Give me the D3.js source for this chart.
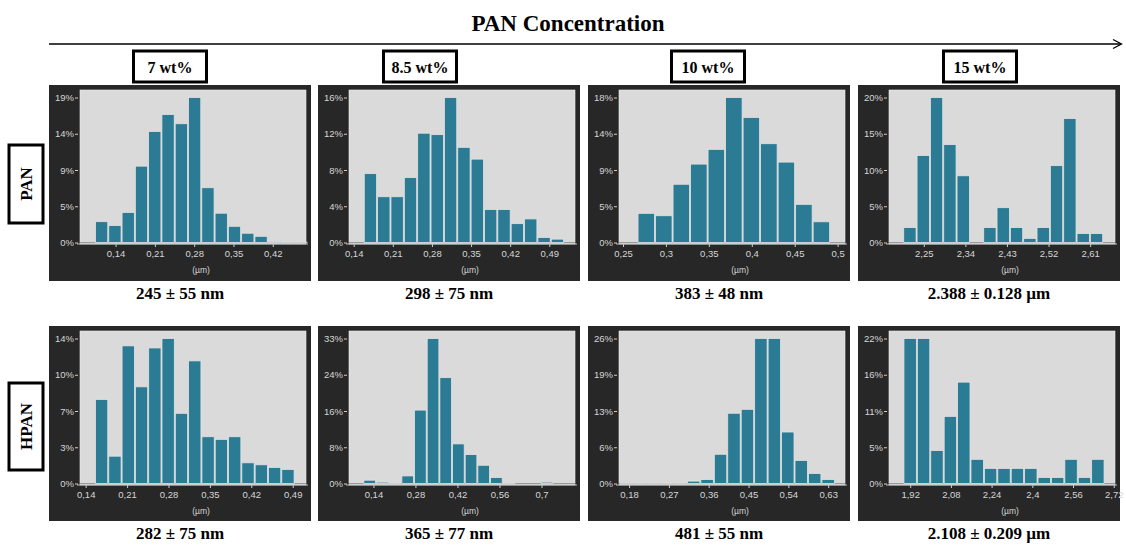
<!DOCTYPE html>
<html>
<head>
<meta charset="utf-8">
<script src="https://cdn.jsdelivr.net/npm/d3@7/dist/d3.min.js"></script>
<style>
    body { margin: 0; background: #fff; }
    svg { display: block; }
</style>
</head>
<body>
<div id="chart"></div>
<script>
// 列标题 / 行标题 / 均值±标准差
var concLabels = ['7 wt%', '8.5 wt%', '10 wt%', '15 wt%'];
var rowLabels = ['PAN', 'HPAN'];
var pan_captions = ['245 ± 55 nm', '298 ± 75 nm', '383 ± 48 nm', '2.388 ± 0.128 µm'];
var hpan_captions = ['282 ± 75 nm', '365 ± 77 nm', '481 ± 55 nm', '2.108 ± 0.209 µm'];

// 直方图数据 (%)，每个面板：首个分箱起点、分箱宽度、x定义域、刻度
var pan7 = [2.7, 2.2, 3.9, 9.9, 14.4, 16.6, 15.4, 18.8, 7.1, 3.8, 2.1, 1.2, 0.8, 0.1, 0.05, 0.05];
var pan7Ticks = [0.14, 0.21, 0.28, 0.35, 0.42];
var pan85 = [7.6, 5.05, 5.05, 7.16, 12.06, 11.9, 16, 10.5, 9.2, 3.64, 3.64, 2.08, 2.6, 0.56, 0.37, 0];
var pan85Ticks = [0.14, 0.21, 0.28, 0.35, 0.42, 0.49];
var pan10 = [3.66, 3.36, 7.31, 9.84, 11.69, 18.2, 15.7, 12.4, 10.09, 4.79, 2.6];
var pan10Ticks = [0.25, 0.3, 0.35, 0.4, 0.45, 0.5];
var pan15 = [2.06, 12.0, 20, 13.5, 9.2, 0, 2.06, 4.8, 2.06, 0.57, 2.06, 10.6, 17.1, 1.23, 1.23];
var pan15Ticks = [2.25, 2.34, 2.43, 2.52, 2.61];

var hpan7 = [8.0, 2.6, 13.1, 9.2, 12.9, 13.8, 6.68, 11.67, 4.45, 4.2, 4.45, 1.97, 1.78, 1.53, 1.34];
var hpan7Ticks = [0.14, 0.21, 0.28, 0.35, 0.42, 0.49];
var hpan85 = [0.74, 0.3, 0.05, 1.7, 16.5, 32.6, 23.8, 8.9, 6.5, 4.1, 1.34, 0.05, 0, 0, 0.3, 0];
var hpan85Ticks = [0.14, 0.28, 0.42, 0.56, 0.7];
var hpan10 = [0.1, 0.05, 0.05, 0.05, 0.05, 0.42, 0.7, 5.2, 12.5, 13.2, 25.8, 25.8, 9.16, 4.1, 1.78, 0.71];
var hpan10Ticks = [0.18, 0.27, 0.36, 0.45, 0.54, 0.63];
var hpan15 = [21.6, 21.6, 4.9, 10.0, 15.1, 3.6, 2.25, 2.25, 2.25, 2.25, 0.9, 0.9, 3.6, 0.9, 3.6];
var hpan15Ticks = [1.92, 2.08, 2.24, 2.4, 2.56, 2.72];

var panels = [
    [
        {values: pan7, start: 0.1033, width: 0.02367, domain: [0.0766, 0.4792], ticks: pan7Ticks, yMax: 18.8},
        {values: pan85, start: 0.158, width: 0.0239, domain: [0.1316, 0.536], ticks: pan85Ticks, yMax: 16},
        {values: pan10, start: 0.2669, width: 0.0204, domain: [0.2453, 0.5086], ticks: pan10Ticks, yMax: 18.2},
        {values: pan15, start: 2.2055, width: 0.02885, domain: [2.1747, 2.6638], ticks: pan15Ticks, yMax: 20}
    ],
    [
        {values: hpan7, start: 0.1557, width: 0.0225, domain: [0.1304, 0.5125], ticks: hpan7Ticks, yMax: 13.8},
        {values: hpan85, start: 0.1065, width: 0.0422, domain: [0.0586, 0.8116], ticks: hpan85Ticks, yMax: 32.6},
        {values: hpan10, start: 0.1587, width: 0.0304, domain: [0.1572, 0.668], ticks: hpan10Ticks, yMax: 25.8},
        {values: hpan15, start: 1.8935, width: 0.0527, domain: [1.8367, 2.725], ticks: hpan15Ticks, yMax: 21.6}
    ]
];
var captions = [pan_captions, hpan_captions];

// 布局
var W = 1126, H = 547;
var panelX = [49, 318, 588, 858],
    panelW = 262,
    rowTop = [85, 326],
    rowH = [196, 195];
var plot = {left: 31, right: 257, top: 5, bottom: 159};
var boxCenter = [170, 420, 708, 980];
var serif = '"Liberation Serif", "Times New Roman", serif';
var sans = '"Liberation Sans", Arial, sans-serif';

var svg = d3.select('#chart').append('svg')
    .attr('width', W)
    .attr('height', H);

// 标题与箭头
svg.append('text')
    .attr('x', 568).attr('y', 31)
    .attr('text-anchor', 'middle')
    .style('font-family', serif).style('font-weight', 'bold').style('font-size', '23px')
    .text('PAN Concentration');

svg.append('line')
    .attr('x1', 49).attr('x2', 1121).attr('y1', 44).attr('y2', 44)
    .attr('stroke', '#000').attr('stroke-width', 1.3);
svg.append('path')
    .attr('d', 'M1113,39.5 L1121.5,44 L1113,48.5')
    .attr('fill', 'none').attr('stroke', '#000').attr('stroke-width', 1.3);

// 浓度框
concLabels.forEach(function (lab, i) {
    var g = svg.append('g').attr('transform', 'translate(' + boxCenter[i] + ',0)');
    g.append('rect')
        .attr('x', -36.5).attr('y', 51).attr('width', 73).attr('height', 31)
        .attr('fill', '#fff').attr('stroke', '#000').attr('stroke-width', 3);
    g.append('text')
        .attr('y', 72.5).attr('text-anchor', 'middle')
        .style('font-family', serif).style('font-weight', 'bold').style('font-size', '16px')
        .text(lab);
});

// 行标签
var rowBox = [[145, 223], [383, 470]];
rowLabels.forEach(function (lab, r) {
    var y0 = rowBox[r][0], y1 = rowBox[r][1];
    svg.append('rect')
        .attr('x', 9).attr('y', y0).attr('width', 34).attr('height', y1 - y0)
        .attr('fill', '#fff').attr('stroke', '#000').attr('stroke-width', 3);
    svg.append('text')
        .attr('transform', 'translate(31.5,' + ((y0 + y1) / 2) + ') rotate(-90)')
        .attr('text-anchor', 'middle')
        .style('font-family', serif).style('font-weight', 'bold').style('font-size', '17px')
        .text(lab);
});

function fmtX(d) {
    return String(d).replace('.', ',');
}

// 面板
panels.forEach(function (row, r) {
    row.forEach(function (p, c) {
        var g = svg.append('g')
            .attr('transform', 'translate(' + panelX[c] + ',' + rowTop[r] + ')');

        g.append('rect')
            .attr('width', panelW).attr('height', rowH[r])
            .attr('fill', '#272727');

        g.append('rect')
            .attr('x', plot.left).attr('y', plot.top)
            .attr('width', plot.right - plot.left).attr('height', plot.bottom - plot.top)
            .attr('fill', '#dadada')
            .attr('stroke', '#efefef').attr('stroke-width', 0.6);

        var x = d3.scaleLinear().domain(p.domain).range([plot.left, plot.right]);
        var y = d3.scaleLinear().domain([0, p.yMax]).range([plot.bottom - 1.5, plot.top + 7.5]);

        // 0 线
        g.append('line')
            .attr('x1', plot.left).attr('x2', plot.right)
            .attr('y1', y(0)).attr('y2', y(0))
            .attr('stroke', '#9a9a9a').attr('stroke-width', 1);

        var bw = x(p.start + p.width) - x(p.start);
        g.selectAll('rect.bar')
            .data(p.values)
            .enter().append('rect')
            .attr('class', 'bar')
            .attr('x', function (d, i) { return x(p.start + i * p.width) + 0.5; })
            .attr('width', bw - 1)
            .attr('y', function (d) { return y(d); })
            .attr('height', function (d) { return Math.max(0, y(0) - y(d)); })
            .attr('fill', '#2a7b93')
            .attr('stroke', '#e2e2e2').attr('stroke-width', 0.8);

        // x 轴
        var xa = g.append('g')
            .attr('transform', 'translate(0,' + plot.bottom + ')')
            .call(d3.axisBottom(x).tickValues(p.ticks).tickFormat(fmtX).tickSize(3).tickSizeOuter(0));
        // y 轴
        var ticksY = [0, 1, 2, 3, 4].map(function (k) { return p.yMax * k / 4; });
        var ya = g.append('g')
            .attr('transform', 'translate(' + (plot.left - 2) + ',0)')
            .call(d3.axisLeft(y).tickValues(ticksY)
                .tickFormat(function (d) { return Math.round(d) + '%'; })
                .tickSize(3).tickSizeOuter(0));

        [xa, ya].forEach(function (a) {
            a.select('.domain').remove();
            a.selectAll('line').attr('stroke', '#cfcfcf');
            a.selectAll('text')
                .attr('fill', '#d6d6d6')
                .style('font-family', sans).style('font-size', '9.5px');
        });
        xa.append('line')
            .attr('x1', plot.left - 3).attr('x2', plot.right + 2)
            .attr('stroke', '#bdbdbd').attr('stroke-width', 1);
        ya.selectAll('text').attr('x', -4);

        g.append('text')
            .attr('x', (plot.left + plot.right) / 2 + 8).attr('y', plot.bottom + 29)
            .attr('text-anchor', 'middle')
            .attr('fill', '#d6d6d6')
            .style('font-family', sans).style('font-size', '8.5px')
            .text('(µm)');

        // 下方说明
        svg.append('text')
            .attr('x', panelX[c] + panelW / 2)
            .attr('y', rowTop[r] + rowH[r] + 18)
            .attr('text-anchor', 'middle')
            .style('font-family', serif).style('font-weight', 'bold').style('font-size', '17px')
            .text(captions[r][c]);
    });
});
</script>
</body>
</html>
